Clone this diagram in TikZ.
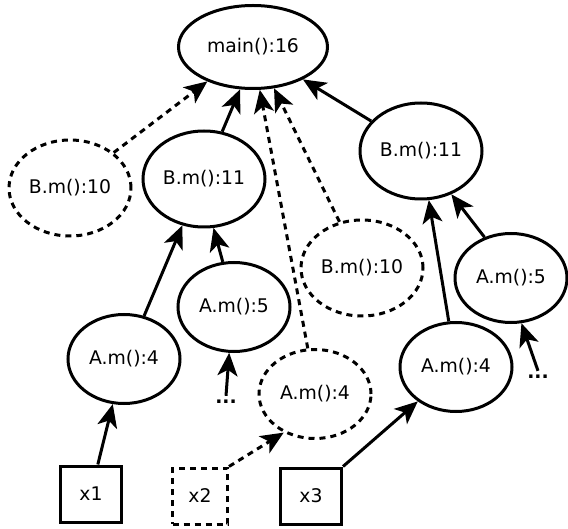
\documentclass[tikz,border=0pt]{standalone}
\usepackage{fontspec}
\setmainfont{DejaVu Sans}
\usetikzlibrary{shapes.geometric,arrows.meta}

\begin{document}
\begin{tikzpicture}[x=0.5pt, y=-0.5pt,
    call/.style={ellipse, draw, line width=1.5pt, inner sep=0pt, font=\fontsize{9.4}{11}\selectfont},
    bcall/.style={call, minimum width=61pt, minimum height=48pt},
    acall/.style={call, minimum width=56pt, minimum height=44.5pt},
    ghost/.style={dash pattern=on 3pt off 2.5pt},
    var/.style={rectangle, draw, line width=1.5pt, minimum width=30.5pt, minimum height=28pt, font=\fontsize{9.4}{11}\selectfont},
    arrow/.style={-{Stealth[length=11.5pt, width=10pt, inset=3pt]}, line width=1.5pt},
    darrow/.style={arrow, ghost},
]
\useasboundingbox (0,0) rectangle (568,529);

% Root call
\node[call, minimum width=74.5pt, minimum height=41.5pt] (main) at (253,47) {main():16};

% B calls
\node[bcall, ghost] (bten) at (70,188) {B.m():10};
\node[bcall] (belevenl) at (204,179) {B.m():11};
\node[bcall] (belevenr) at (421,151) {B.m():11};
\node[bcall, ghost] (btenm) at (362,268) {B.m():10};

% A calls
\node[acall] (afourl) at (124,359) {A.m():4};
\node[acall] (afivel) at (234,307) {A.m():5};
\node[acall, ghost] (afourm) at (315,394) {A.m():4};
\node[acall] (afourr) at (456,367) {A.m():4};
\node[acall] (afiver) at (511,278) {A.m():5};

% Elided callers
\node[inner sep=2pt, font=\fontsize{9.4}{11}\selectfont\bfseries] (dotsl) at (226,402) {...};
\node[inner sep=2pt, font=\fontsize{9.4}{11}\selectfont\bfseries] (dotsr) at (538,377) {...};

% Variables
\node[var] (xone) at (91,494) {x1};
\node[var, ghost, minimum width=27.5pt] (xtwo) at (200,496) {x2};
\node[var] (xthree) at (311,496) {x3};

% Edges into main
\draw[darrow] (bten.39) -- (main.217);
\draw[arrow] (belevenl.69) -- (main.253);
\draw[darrow] (afourm.99) -- (main.279);
\draw[darrow] (btenm.116) -- (main.297);
\draw[arrow] (belevenr.149) -- (main.327);

% Edges into B calls
\draw[arrow] (afourl.65) -- (belevenl.245);
\draw[arrow] (afivel.104) -- (belevenl.281);
\draw[arrow] (afourr.99) -- (belevenr.279);
\draw[arrow] (afiver.123) -- (belevenr.305);

% Edges into A calls
\draw[arrow] (dotsl.north) -- (afivel.264);
\draw[arrow] (dotsr.north) -- (afiver.283);
\draw[arrow] (xone.77) -- (afourl.256);
\draw[darrow] (xtwo.north east) -- (afourm.231);
\draw[arrow] (xthree.north east) -- (afourr.222);

\end{tikzpicture}
\end{document}
